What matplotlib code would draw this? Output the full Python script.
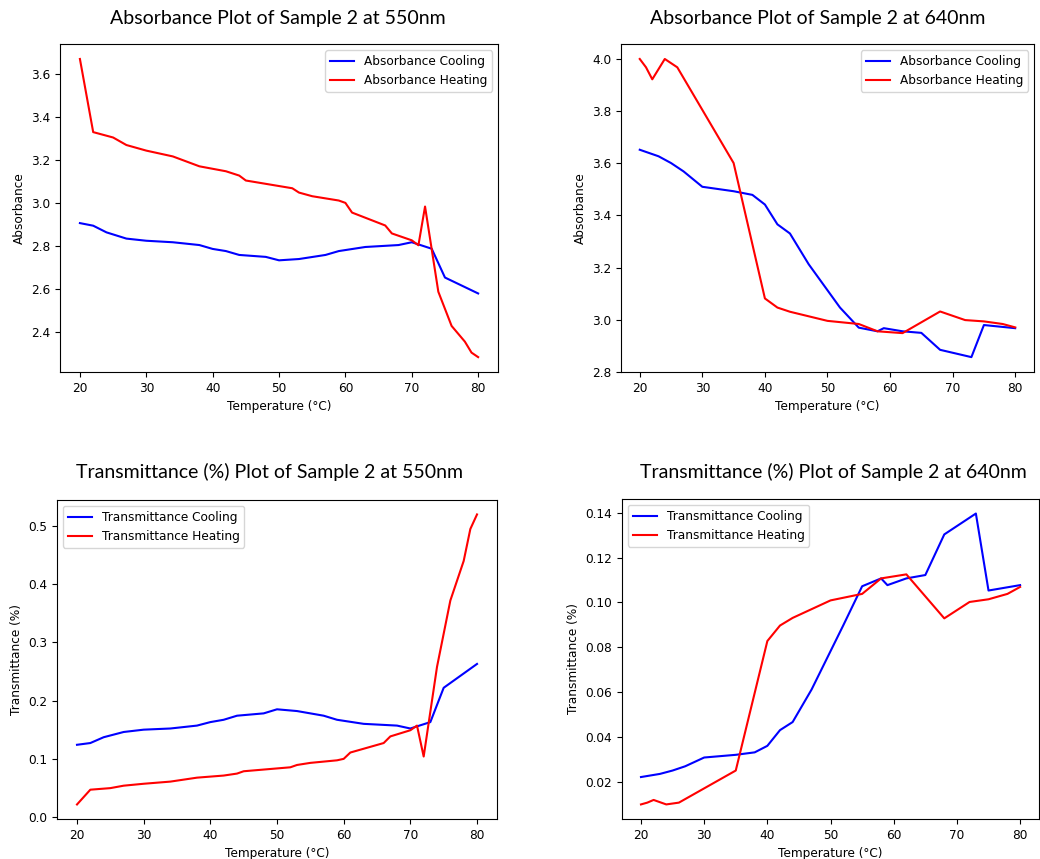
import matplotlib
matplotlib.use("Agg")
import matplotlib.pyplot as plt

# ---- data ----
# 550 nm, heating
temp_heat_550 = [20, 22, 25, 27, 30, 34, 38, 42, 44, 45, 52, 53, 55, 59, 60, 61,
                 66, 67, 70, 71, 72, 74, 76, 78, 79, 80]
abs_heat_550 = [3.67, 3.33, 3.305, 3.27, 3.244, 3.217, 3.171, 3.148, 3.128, 3.105,
                3.069, 3.049, 3.032, 3.012, 3.001, 2.956, 2.896, 2.859, 2.827, 2.804,
                2.984, 2.588, 2.429, 2.356, 2.305, 2.284]
trans_heat_550 = [0.0214, 0.0468, 0.0495, 0.0537, 0.057, 0.0607, 0.0675, 0.0711, 0.0745,
                  0.0785, 0.0853, 0.0893, 0.0929, 0.0973, 0.0998, 0.1107, 0.127, 0.1384,
                  0.149, 0.157, 0.1038, 0.258, 0.372, 0.44, 0.495, 0.52]

# 550 nm, cooling
temp_cool_550 = [20, 22, 24, 27, 30, 34, 38, 40, 42, 44, 48, 50, 53, 57, 59, 63,
                 68, 70, 73, 75, 80]
abs_cool_550 = [2.907, 2.895, 2.864, 2.835, 2.825, 2.818, 2.805, 2.787, 2.777, 2.759,
                2.750, 2.734, 2.740, 2.759, 2.777, 2.796, 2.805, 2.818, 2.788, 2.654, 2.580]
trans_cool_550 = [0.124, 0.127, 0.137, 0.146, 0.150, 0.152, 0.157, 0.163, 0.167, 0.174,
                  0.178, 0.185, 0.182, 0.174, 0.167, 0.160, 0.157, 0.152, 0.163, 0.222, 0.263]

# 640 nm, heating
temp_heat_640 = [20, 21, 22, 24, 26, 35, 40, 42, 44, 50, 55, 58, 62, 68, 72, 75, 78, 80]
abs_heat_640 = [4.0, 3.968, 3.922, 4.0, 3.968, 3.601, 3.082, 3.047, 3.031, 2.996,
                2.984, 2.956, 2.949, 3.032, 2.999, 2.994, 2.984, 2.971]
trans_heat_640 = [0.0100, 0.0108, 0.0120, 0.0100, 0.0108, 0.0251, 0.0828, 0.0897, 0.0931,
                  0.1009, 0.1038, 0.1107, 0.1125, 0.0929, 0.1002, 0.1014, 0.1038, 0.1069]

# 640 nm, cooling
temp_cool_640 = [20, 23, 25, 27, 30, 35, 38, 40, 42, 44, 47, 52, 55, 58, 59, 62,
                 65, 68, 73, 75, 80]
abs_cool_640 = [3.652, 3.627, 3.601, 3.569, 3.510, 3.493, 3.479, 3.442, 3.366, 3.331,
                3.213, 3.047, 2.970, 2.956, 2.968, 2.956, 2.950, 2.885, 2.857, 2.980, 2.968]
trans_cool_640 = [0.0222, 0.0236, 0.0251, 0.0270, 0.0309, 0.0321, 0.0332, 0.0361, 0.0431,
                  0.0467, 0.0612, 0.0897, 0.1072, 0.1107, 0.1077, 0.1107, 0.1122, 0.1303,
                  0.1396, 0.1053, 0.1077]

TICK = 8.7
title_font = dict(family=["Lato", "DejaVu Sans"], fontsize=14)

fig = plt.figure(figsize=(10.40, 8.59), dpi=100)

ax1 = fig.add_axes([0.0577, 0.5669, 0.4212, 0.3818])
ax2 = fig.add_axes([0.5971, 0.5669, 0.3971, 0.3818])
ax3 = fig.add_axes([0.0548, 0.0466, 0.4231, 0.3714])
ax4 = fig.add_axes([0.5981, 0.0466, 0.4010, 0.3725])

ax1.plot(temp_cool_550, abs_cool_550, color="blue", label="Absorbance Cooling")
ax1.plot(temp_heat_550, abs_heat_550, color="red", label="Absorbance Heating")
ax1.set_ylabel("Absorbance", fontsize=TICK)

ax2.plot(temp_cool_640, abs_cool_640, color="blue", label="Absorbance Cooling")
ax2.plot(temp_heat_640, abs_heat_640, color="red", label="Absorbance Heating")
ax2.set_ylabel("Absorbance", fontsize=TICK)

ax3.plot(temp_cool_550, trans_cool_550, color="blue", label="Transmittance Cooling")
ax3.plot(temp_heat_550, trans_heat_550, color="red", label="Transmittance Heating")
ax3.set_ylabel("Transmittance (%)", fontsize=TICK)

ax4.plot(temp_cool_640, trans_cool_640, color="blue", label="Transmittance Cooling")
ax4.plot(temp_heat_640, trans_heat_640, color="red", label="Transmittance Heating")
ax4.set_ylabel("Transmittance (%)", fontsize=TICK)

for ax in (ax1, ax2):
    ax.legend(loc="upper right", fontsize=TICK)
for ax in (ax3, ax4):
    ax.legend(loc="upper left", fontsize=TICK)

for ax in (ax1, ax2, ax3, ax4):
    ax.set_xlabel("Temperature (°C)", fontsize=TICK)
    ax.tick_params(labelsize=TICK)

fig.text(0.2673, 0.979, "Absorbance Plot of Sample 2 at 550nm", ha="center", va="center", **title_font)
fig.text(0.7865, 0.979, "Absorbance Plot of Sample 2 at 640nm", ha="center", va="center", **title_font)
fig.text(0.2596, 0.4505, "Transmittance (%) Plot of Sample 2 at 550nm", ha="center", va="center", **title_font)
fig.text(0.8010, 0.4505, "Transmittance (%) Plot of Sample 2 at 640nm", ha="center", va="center", **title_font)

fig.savefig("out.png", dpi=100)
